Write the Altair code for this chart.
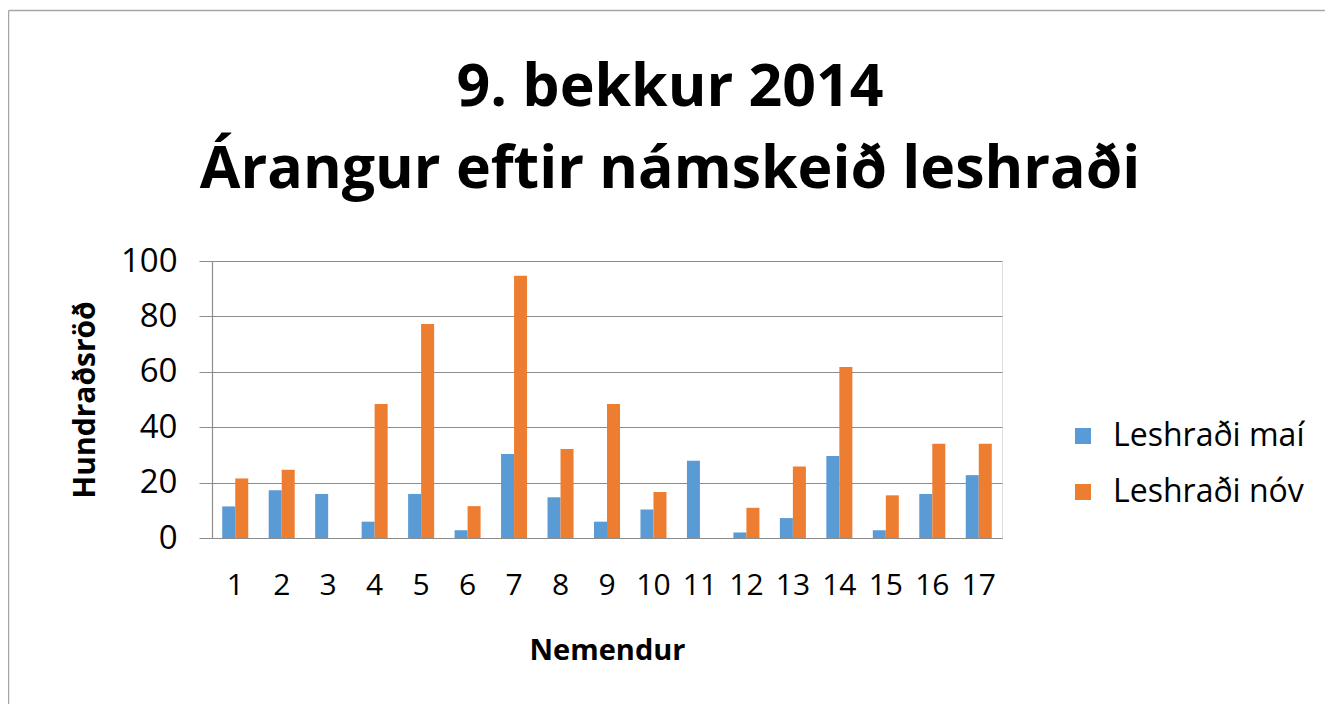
import altair as alt
import pandas as pd

students = [str(i) for i in range(1, 18)]
may = [11.4, 17.2, 15.9, 5.9, 15.9, 2.8, 30.3, 14.7, 5.9, 10.3, 27.9, 2.0, 7.2, 29.6, 2.8, 15.9, 22.7]
nov = [21.5, 24.6, None, 48.4, 77.3, 11.5, 94.7, 32.1, 48.4, 16.6, None, 10.9, 25.8, 61.7, 15.4, 34.0, 34.0]
series = ["Leshraði maí", "Leshraði nóv"]
colors = ["#5B9BD5", "#ED7D31"]
y_ticks = [0, 20, 40, 60, 80, 100]

rows = []
for i, s in enumerate(students):
    rows.append({"Nemandi": s, "Röð": series[0], "Gildi": may[i]})
    rows.append({"Nemandi": s, "Röð": series[1], "Gildi": nov[i]})
df = pd.DataFrame(rows).dropna()

FONT = "Open Sans"

bars = alt.Chart(df).mark_bar().encode(
    x=alt.X("Nemandi:N", sort=students,
            scale=alt.Scale(paddingInner=0.44, paddingOuter=0.22),
            axis=alt.Axis(title="Nemendur", labelAngle=0, labelFontSize=30,
                          labelFont=FONT, labelColor="#000000", labelPadding=32,
                          ticks=False, domainColor="#8c8c8c", domainWidth=1.2,
                          titleFont=FONT, titleFontSize=29, titleFontWeight="bold",
                          titleColor="#000000", titlePadding=36)),
    xOffset=alt.XOffset("Röð:N", sort=series, scale=alt.Scale(paddingInner=0, paddingOuter=0)),
    y=alt.Y("Gildi:Q", scale=alt.Scale(domain=[0, 100], nice=False),
            axis=alt.Axis(title="Hundraðsröð", values=y_ticks, labelFontSize=33,
                          labelFont=FONT, labelColor="#000000", labelPadding=22,
                          tickSize=13, tickColor="#8c8c8c", domainColor="#8c8c8c",
                          domainWidth=1.2, gridColor="#8c8c8c", gridWidth=1.2,
                          titleFont=FONT, titleFontSize=30, titleFontWeight="bold",
                          titleColor="#000000", titlePadding=20)),
    color=alt.Color("Röð:N", sort=series,
                    scale=alt.Scale(domain=series, range=colors),
                    legend=alt.Legend(title=None, orient="none", legendX=855, legendY=159,
                                      symbolType="square", symbolSize=256,
                                      symbolStrokeWidth=0, labelFont=FONT,
                                      labelFontSize=32, labelColor="#000000",
                                      labelLimit=400, rowPadding=24, labelOffset=14)),
)

frame_src = alt.Chart(pd.DataFrame({"a": [0]}))
top_edge = frame_src.mark_rule(color="#a6a6a6", strokeWidth=1.5).encode(
    x=alt.value(-203.5), x2=alt.value(1500), y=alt.value(-250.5))
left_edge = frame_src.mark_rule(color="#a6a6a6", strokeWidth=1.5).encode(
    x=alt.value(-203.5), y=alt.value(-250.5), y2=alt.value(800))

chart = alt.layer(top_edge, left_edge, bars).properties(
    width=790, height=277,
    autosize=alt.AutoSizeParams(type="none"),
    padding={"left": 204, "top": 253, "right": 323, "bottom": 166},
    title=alt.TitleParams(text=["9. bekkur 2014", "Árangur eftir námskeið leshraði"],
                          font=FONT, fontSize=59, fontWeight="bold", color="#000000",
                          lineHeight=82, dx=63, offset=-237.5, baseline="alphabetic",
                          anchor="middle"),
).configure_view(stroke=None).configure(background="#ffffff")

chart.save("out.html", embed_options={"renderer": "svg", "actions": False})
